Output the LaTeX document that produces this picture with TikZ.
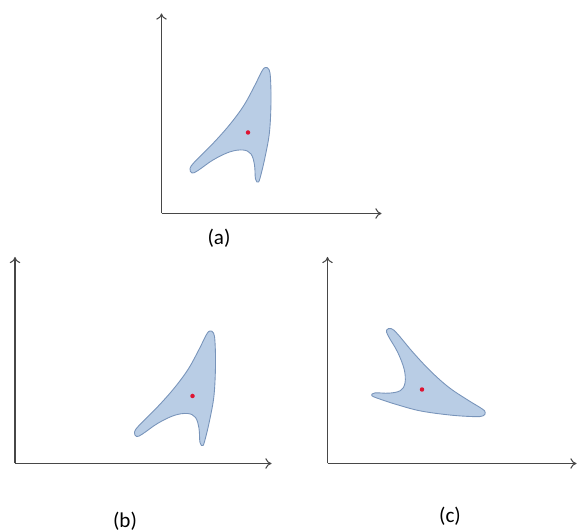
\documentclass[tikz,border=0pt]{standalone}
\usepackage{fontspec}
\setmainfont{Carlito}
\usetikzlibrary{arrows.meta}

\definecolor{blobfill}{RGB}{185,205,229}
\definecolor{blobedge}{RGB}{120,148,186}
\definecolor{centre}{RGB}{222,20,50}

\begin{document}
\begin{tikzpicture}[
    axis/.style={draw=black!72, line width=0.6pt, -{To[length=3.5pt, width=6pt]}},
    blobline/.style={draw=blobedge, fill=blobfill, line width=0.5pt},
    lbl/.style={font=\fontsize{12}{14}\selectfont, inner sep=0pt},
    %% the shape with its centre point at (0,0)
    blob/.pic={
        \draw[blobline] plot[smooth cycle, tension=0.6] coordinates {
            (0.28,1.23) (0.35,1.30) (0.42,1.26) (0.45,1.08) (0.46,0.60)
            (0.43,0.01) (0.35,-0.45) (0.27,-0.80) (0.21,-0.99) (0.15,-0.93)
            (0.13,-0.65) (0.06,-0.43) (-0.10,-0.35) (-0.37,-0.39) (-0.70,-0.55)
            (-1.00,-0.76) (-1.12,-0.81) (-1.16,-0.72) (-1.06,-0.58) (-0.72,-0.24)
            (-0.38,0.14) (-0.09,0.53) (0.13,0.93)};
        \fill[centre] (0,0) circle (0.045);
    }
]
\useasboundingbox (0,0) rectangle (11.54,10.62);

%% (a)
\begin{scope}[xshift=3.23cm, yshift=6.35cm]
    \coordinate (ao) at (0,0);
    \coordinate (ay) at (0,4.00);
    \coordinate (ax) at (4.40,0);
    \draw[axis] (ao) -- (ay);
    \draw[axis] (ao) -- (ax);
    \pic (ablob) at (1.73,1.62) {blob};
    \node[lbl] (alabel) at (1.15,-0.49) {(a)};
\end{scope}

%% (b)
\begin{scope}[xshift=0.30cm, yshift=1.35cm]
    \coordinate (bo) at (0,0);
    \coordinate (by) at (0,4.13);
    \coordinate (bx) at (5.13,0);
    \draw[axis] (bo) -- (by);
    \draw[axis] (bo) -- (bx);
    \pic (bblob) at (3.55,1.35) {blob};
    \node[lbl] (blabel) at (2.20,-1.15) {(b)};
\end{scope}

%% (c)
\begin{scope}[xshift=6.55cm, yshift=1.35cm]
    \coordinate (co) at (0,0);
    \coordinate (cy) at (0,4.13);
    \coordinate (cx) at (4.98,0);
    \draw[axis] (co) -- (cy);
    \draw[axis] (co) -- (cx);
    \pic[rotate=-95] (cblob) at (1.89,1.48) {blob};
    \node[lbl] (clabel) at (2.45,-1.06) {(c)};
\end{scope}

\end{tikzpicture}
\end{document}
